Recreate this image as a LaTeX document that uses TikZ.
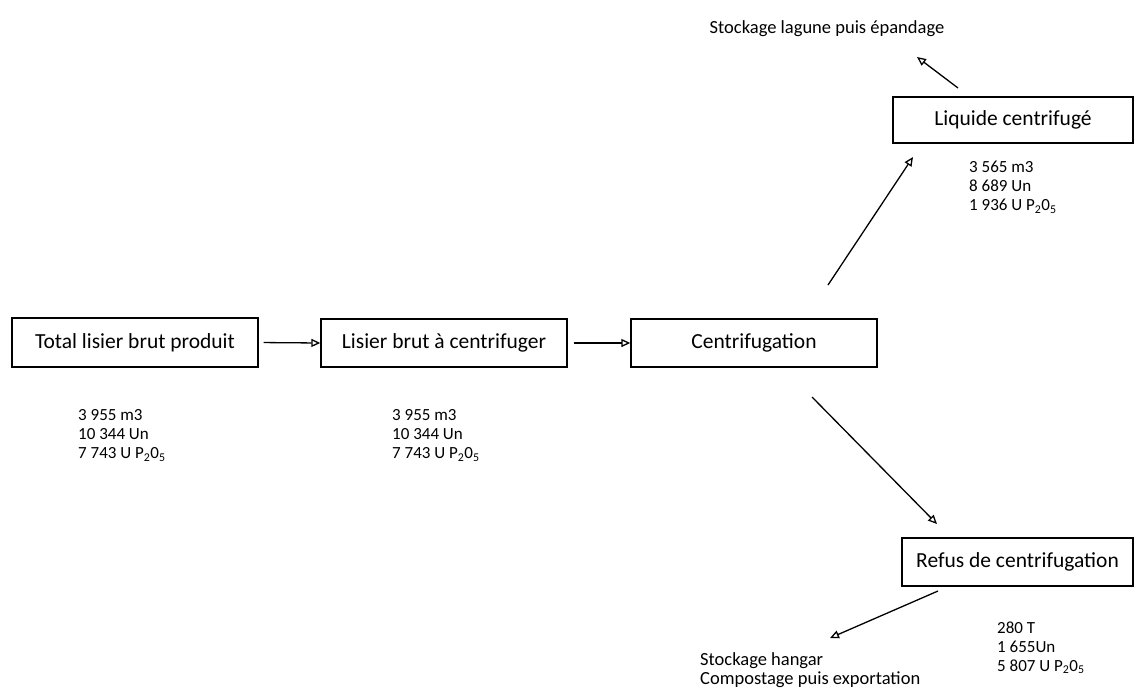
\documentclass[tikz,border=0pt]{standalone}
\usepackage{fontspec}
\setmainfont{Carlito}
\usetikzlibrary{arrows.meta}
\tikzset{
  procbox/.style={draw=black, line width=1.4pt, inner sep=0pt, font=\fontsize{21.5}{24}\selectfont},
  stats/.style={anchor=north west, inner sep=0pt, align=left, font=\fontsize{17}{19}\selectfont},
  dest/.style={inner sep=0pt, align=left, font=\fontsize{18.5}{19}\selectfont},
  flow/.style={line width=1.3pt, -{Triangle[open, length=9pt, width=8pt, line width=1.3pt]}}
}
\begin{document}
\begin{tikzpicture}[x=1pt,y=-1pt]
\useasboundingbox[fill=white] (0,0) rectangle (1135,689);

\node[procbox, minimum width=246pt, minimum height=49pt] (total) at (135,342.5) {Total lisier brut produit};
\node[procbox, minimum width=246pt, minimum height=48pt] (lisier) at (444,343) {Lisier brut à centrifuger};
\node[procbox, minimum width=246pt, minimum height=48pt] (centri) at (754,343) {Centrifugation};
\node[procbox, minimum width=240pt, minimum height=46pt] (liquide) at (1013,120) {Liquide centrifugé};
\node[procbox, minimum width=231pt, minimum height=48pt] (refus) at (1017.5,562) {Refus de centrifugation};

\node[stats] (s1) at (78,409.3) {3 955 m3\\10 344 Un\\7 743 U P\textsubscript{2}0\textsubscript{5}};
\node[stats] (s2) at (392,409.3) {3 955 m3\\10 344 Un\\7 743 U P\textsubscript{2}0\textsubscript{5}};
\node[stats] (s3) at (969,161.3) {3 565 m3\\8 689 Un\\1 936 U P\textsubscript{2}0\textsubscript{5}};
\node[stats] (s4) at (997,621.3) {280 T\\1 655Un\\5 807 U P\textsubscript{2}0\textsubscript{5}};

\node[dest, anchor=base] (lagune) at (827,33) {Stockage lagune puis épandage};
\node[dest, anchor=north west] (hangar) at (700,652) {Stockage hangar\\Compostage puis exportation};

\coordinate (a3s) at (828,285);
\coordinate (a3e) at (913,157);
\coordinate (a4s) at (812,397);
\coordinate (a4e) at (937,524);
\coordinate (a5s) at (958,88);
\coordinate (a5e) at (917,57);
\coordinate (a6s) at (938,591);
\coordinate (a6e) at (830,638);

\draw[flow, shorten <=5pt] (total.east) -- (lisier.west);
\draw[flow, shorten <=6pt] (lisier.east) -- (centri.west);
\draw[flow] (a3s) -- (a3e);
\draw[flow] (a4s) -- (a4e);
\draw[flow] (a5s) -- (a5e);
\draw[flow] (a6s) -- (a6e);
\end{tikzpicture}
\end{document}
